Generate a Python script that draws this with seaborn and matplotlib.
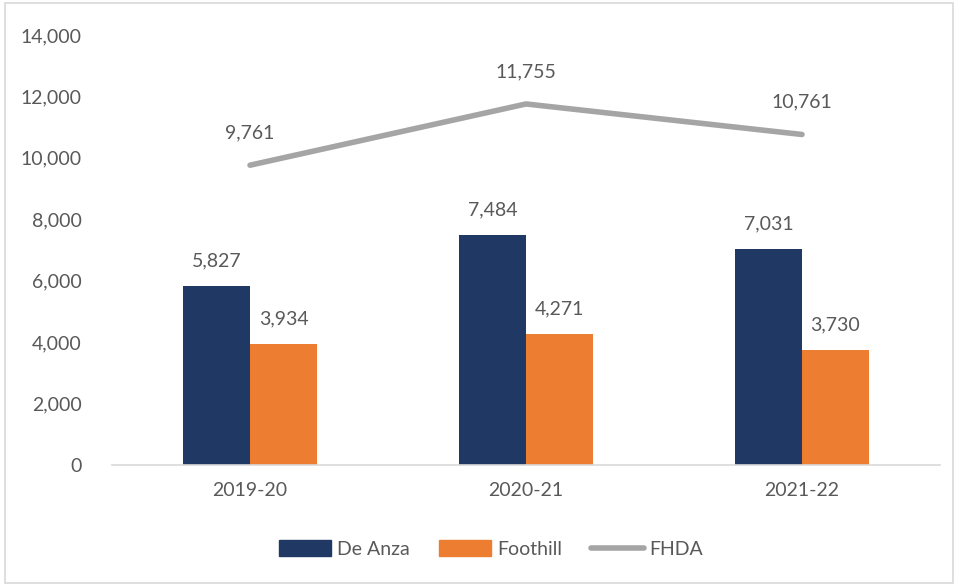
import matplotlib
matplotlib.use("Agg")
import matplotlib.pyplot as plt
import seaborn as sns
import pandas as pd
from matplotlib.patches import Rectangle
from matplotlib.lines import Line2D

years = ["2019-20", "2020-21", "2021-22"]
de_anza = [5827, 7484, 7031]
foothill = [3934, 4271, 3730]
fhda = [9761, 11755, 10761]

sns.set_theme(style="white")
plt.rcParams["font.family"] = ["Lato", "DejaVu Sans"]

TXT = "#595959"
NAVY = "#203864"
ORANGE = "#ED7D31"
GRAY = "#A5A5A5"

df = pd.DataFrame({
    "Year": years * 2,
    "Value": de_anza + foothill,
    "College": ["De Anza"] * 3 + ["Foothill"] * 3,
})

fig = plt.figure(figsize=(9.58, 5.86), dpi=100)
fig.patches.append(Rectangle((0.005, 0.005), 0.99, 0.99, transform=fig.transFigure,
                             fill=False, edgecolor="#D9D9D9", linewidth=1.2))
ax = fig.add_axes([112 / 958, 1 - 465 / 586, (940 - 112) / 958, (465 - 35) / 586])

sns.barplot(data=df, x="Year", y="Value", hue="College", order=years,
            hue_order=["De Anza", "Foothill"], palette=[NAVY, ORANGE],
            width=0.485, ax=ax, legend=False, errorbar=None, saturation=1,
            linewidth=0, edgecolor="none")
sns.lineplot(x=list(range(len(years))), y=fhda, color=GRAY, linewidth=4, ax=ax,
             legend=False)

for cont in ax.containers:
    for bar in cont:
        h = bar.get_height()
        ax.annotate(f"{h:,.0f}", (bar.get_x() + bar.get_width() / 2, h),
                    xytext=(0, 12), textcoords="offset points", ha="center",
                    va="bottom", fontsize=14, color=TXT)
for i, v in enumerate(fhda):
    ax.annotate(f"{v:,.0f}", (i, v), xytext=(0, 17), textcoords="offset points",
                ha="center", va="bottom", fontsize=14, color=TXT)

ax.set_xlim(-0.5, 2.5)
ax.set_ylim(0, 14000)
ax.set_yticks(range(0, 14001, 2000))
ax.set_yticklabels([f"{v:,}" for v in range(0, 14001, 2000)])
ax.set_xlabel("")
ax.set_ylabel("")
ax.tick_params(axis="both", labelsize=14, colors=TXT, length=0)
ax.tick_params(axis="y", pad=22)
ax.tick_params(axis="x", pad=12)
for s in ["top", "right", "left"]:
    ax.spines[s].set_visible(False)
ax.spines["bottom"].set_color("#D9D9D9")
ax.spines["bottom"].set_linewidth(1.2)

handles = [Rectangle((0, 0), 1, 1, color=NAVY), Rectangle((0, 0), 1, 1, color=ORANGE),
           Line2D([0], [0], color=GRAY, linewidth=4, solid_capstyle="round")]
fig.legend(handles, ["De Anza", "Foothill", "FHDA"], loc="center",
           bbox_to_anchor=(491 / 958, 1 - 549 / 586), ncol=3, frameon=False,
           fontsize=14, labelcolor=TXT, handlelength=2.7, handleheight=0.9,
           columnspacing=1.5, handletextpad=0.3)

fig.savefig("out.png", dpi=100)
